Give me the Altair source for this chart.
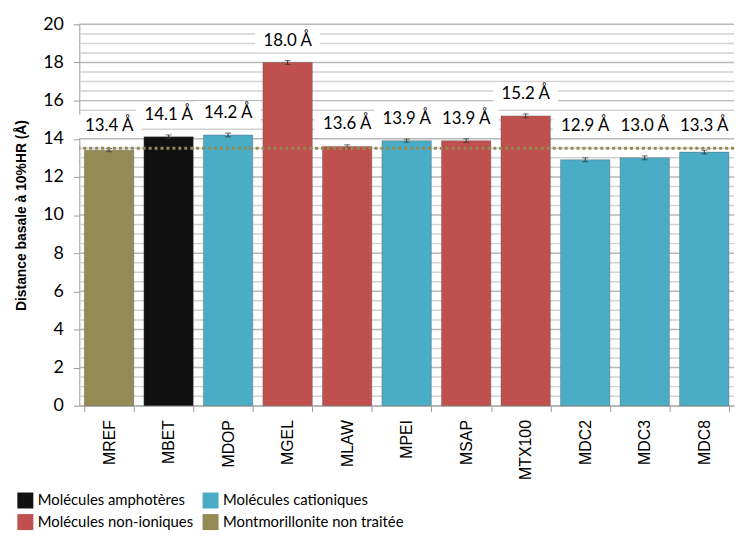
import altair as alt
import pandas as pd

categories = ["MREF", "MBET", "MDOP", "MGEL", "MLAW", "MPEI", "MSAP", "MTX100", "MDC2", "MDC3", "MDC8"]
values = [13.4, 14.1, 14.2, 18.0, 13.6, 13.9, 13.9, 15.2, 12.9, 13.0, 13.3]
errors = [0.08, 0.1, 0.1, 0.1, 0.08, 0.08, 0.1, 0.1, 0.1, 0.1, 0.1]
groups = ["Montmorillonite non traitée", "Molécules amphotères", "Molécules cationiques",
          "Molécules non-ioniques", "Molécules non-ioniques", "Molécules cationiques",
          "Molécules non-ioniques", "Molécules non-ioniques", "Molécules cationiques",
          "Molécules cationiques", "Molécules cationiques"]
group_order = ["Molécules amphotères", "Molécules cationiques", "Molécules non-ioniques", "Montmorillonite non traitée"]
group_colors = ["#111111", "#4BACC6", "#C0504D", "#948A54"]
reference_line = 13.5
major_ticks = [0, 2, 4, 6, 8, 10, 12, 14, 16, 18, 20]
grid_values = [i * 0.5 for i in range(41)]

df = pd.DataFrame({"cat": categories, "val": values, "err": errors, "grp": groups})
df["lo"] = df["val"] - df["err"]
df["hi"] = df["val"] + df["err"]
df["label"] = df["val"].map(lambda v: f"{v:.1f} Å")

grid_df = pd.DataFrame({"g": grid_values})
grid_df["major"] = grid_df["g"].map(lambda v: "major" if v % 2 == 0 else "minor")

FONT = "Lato"
TITLE = "Distance basale à 10%HR (Å)"
x_enc = alt.X("cat:N", sort=categories, title=None,
              scale=alt.Scale(paddingInner=0.17, paddingOuter=0.085),
              axis=alt.Axis(labelAngle=-90, labelFont="Liberation Sans", labelFontSize=16,
                            labelColor="#000", tickBand="extent", tickSize=6, tickColor="#999",
                            domainColor="#999", labelPadding=8, grid=False))
x_plain = alt.X("cat:N", sort=categories, title=None)
y_scale = alt.Scale(domain=[0, 20], nice=False)
y_axis = alt.Axis(values=major_ticks, grid=False, labelOverlap=False, format="d",
                  tickColor="#999", domainColor="#999", tickSize=6,
                  labelFont=FONT, labelFontSize=18, labelColor="#000", labelPadding=10,
                  titleFont="Liberation Sans", titleFontSize=14, titleFontWeight="bold",
                  titleColor="#000", titlePadding=14)


def Y(field):
    return alt.Y(field, scale=y_scale, title=TITLE, axis=y_axis)


base = alt.Chart(df)

grid = alt.Chart(grid_df).mark_rule(strokeWidth=1.5).encode(
    y=Y("g:Q"),
    color=alt.Color("major:N", scale=alt.Scale(domain=["major", "minor"], range=["#b8b8b8", "#d2d2d2"]),
                    legend=None),
)

bars = base.mark_bar(stroke="#555", strokeWidth=0.6, strokeOpacity=0.6).encode(
    x=x_enc,
    y=Y("val:Q"),
    fill=alt.Fill("grp:N", scale=alt.Scale(domain=group_order, range=group_colors),
                  legend=alt.Legend(title=None, orient="none", legendX=-63, legendY=472,
                                    direction="horizontal", columns=2, symbolType="square",
                                    symbolSize=260, symbolStrokeWidth=0, labelFont=FONT,
                                    labelFontSize=15, labelColor="#000", columnPadding=8,
                                    rowPadding=5, labelLimit=300)),
)

err_rule = base.mark_rule(color="#333", strokeWidth=1).encode(
    x=x_plain, y=Y("lo:Q"), y2="hi:Q")
err_lo = base.mark_tick(color="#333", size=6, thickness=1).encode(x=x_plain, y=Y("lo:Q"))
err_hi = base.mark_tick(color="#333", size=6, thickness=1).encode(x=x_plain, y=Y("hi:Q"))

refline = alt.Chart(pd.DataFrame({"y": [reference_line]})).mark_rule(
    color="#948A54", strokeWidth=3, strokeDash=[3, 3]).encode(y=Y("y:Q"))

lab_base = base.transform_calculate(ly="max(datum.val, 13.5) + 1.15")

boxes = lab_base.mark_point(shape="M-1,-0.36L1,-0.36L1,0.36L-1,0.36Z", filled=True,
                            color="white", opacity=1, size=4300).encode(x=x_plain, y=Y("ly:Q"))

labels = lab_base.mark_text(font=FONT, fontSize=17, color="#000", baseline="middle").encode(
    x=x_plain, y=Y("ly:Q"), text="label:N")

chart = alt.layer(grid, bars, err_rule, err_lo, err_hi, refline, boxes, labels).resolve_scale(
    color="independent").properties(
    width=661, height=385,
    autosize=alt.AutoSizeParams(type="none"),
    padding={"left": 72, "top": 14, "right": 2, "bottom": 125},
).configure_view(stroke=None)

chart.save("out.html", embed_options={"renderer": "svg", "actions": False})
